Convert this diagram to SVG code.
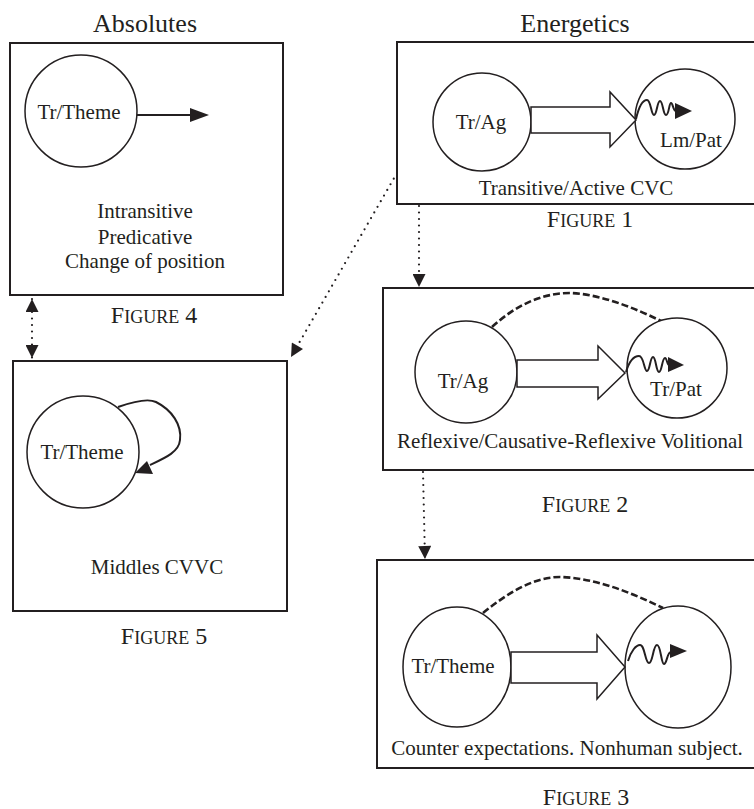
<svg xmlns="http://www.w3.org/2000/svg" width="754" height="809" viewBox="0 0 754 809">
<style>
text{font-family:"Liberation Serif","Times New Roman",serif;fill:#231f20}
.title{font-size:26px}
.body{font-size:21px}
.cap{font-size:24px}
.sc{font-size:18px}
.box{fill:#fff;stroke:#231f20;stroke-width:2}
.node{fill:#fff;stroke:#231f20;stroke-width:1.5}
.hollow{fill:#fff;stroke:#231f20;stroke-width:1.5;stroke-linejoin:miter}
.solid{fill:none;stroke:#231f20;stroke-width:2}
.wave{fill:none;stroke:#231f20;stroke-width:2}
.dash{fill:none;stroke:#231f20;stroke-width:2.6;stroke-dasharray:7 3}
.dot{fill:none;stroke:#231f20;stroke-width:2.2;stroke-dasharray:0 6.5;stroke-linecap:round}
.head{fill:#231f20;stroke:none}
</style>
<defs>
<marker id="ah" viewBox="0 0 10 10" refX="10" refY="5" markerWidth="15" markerHeight="13" markerUnits="userSpaceOnUse" orient="auto-start-reverse">
<path d="M0,0 L10,5 L0,10 z" fill="#231f20"/>
</marker>
</defs>

<text class="title" x="145" y="32" text-anchor="middle">Absolutes</text>
<text class="title" x="575" y="32" text-anchor="middle">Energetics</text>

<g id="fig4">
<rect class="box" x="10" y="43" width="273" height="252"/>
<circle class="node" cx="81" cy="111" r="56"/>
<text class="body" x="79" y="119" text-anchor="middle">Tr/Theme</text>
<line class="solid" x1="137" y1="115" x2="191" y2="115"/>
<polygon class="head" points="190,108 209,115 190,122"/>
<text class="body" x="145" y="218" text-anchor="middle">Intransitive</text>
<text class="body" x="145" y="244" text-anchor="middle">Predicative</text>
<text class="body" x="145" y="268" text-anchor="middle">Change of position</text>
<text class="cap" x="154" y="323" text-anchor="middle">F<tspan class="sc">IGURE</tspan> 4</text>
</g>

<g id="fig1">
<rect class="box" x="397" y="42" width="360" height="162"/>
<circle class="node" cx="482" cy="122" r="49"/>
<text class="body" x="481" y="129" text-anchor="middle">Tr/Ag</text>
<circle class="node" cx="685" cy="119" r="50"/>
<polygon class="hollow" points="531,107 610,107 610,92 636,120 610,147 610,133 531,133"/>
<path class="wave" d="M636,119 C639,106 643,100 647,100 C651,100 651,115 654,115 C657,115 657,101 660,101 C663,101 663,115 666,115 C669,115 669,103 671,103 C673,103 673,111 676,111"/>
<polygon class="head" points="675,103 692,111 675,119"/>
<text class="body" x="691" y="147" text-anchor="middle">Lm/Pat</text>
<text class="body" x="576" y="195" text-anchor="middle">Transitive/Active CVC</text>
<text class="cap" x="590" y="227" text-anchor="middle">F<tspan class="sc">IGURE</tspan> 1</text>
</g>

<g id="fig2">
<rect class="box" x="383" y="288" width="374" height="182"/>
<path class="dash" d="M492,327 C518,303 545,293 570,293 C600,294 635,308 663,322"/>
<circle class="node" cx="466" cy="372" r="51"/>
<text class="body" x="463" y="388" text-anchor="middle">Tr/Ag</text>
<circle class="node" cx="677" cy="368" r="50"/>
<polygon class="hollow" points="517,360 598,360 598,346 625,373 598,399 598,387 517,387"/>
<path class="wave" d="M626,372 C629,362 634,356 639,356 C644,356 644,371 647,371 C650,371 650,357 653,357 C656,357 656,372 659,372 C662,372 662,358 665,358 C667,358 667,365 669,365"/>
<polygon class="head" points="668,357 684,365 668,372"/>
<text class="body" x="676" y="396" text-anchor="middle">Tr/Pat</text>
<text class="body" x="570" y="448" text-anchor="middle">Reflexive/Causative-Reflexive Volitional</text>
<text class="cap" x="585" y="512" text-anchor="middle">F<tspan class="sc">IGURE</tspan> 2</text>
</g>

<g id="fig3">
<rect class="box" x="377" y="560" width="380" height="208"/>
<path class="dash" d="M483,613 C510,591 535,577 560,577 C595,578 630,592 663,608"/>
<ellipse class="node" cx="457" cy="667" rx="54" ry="60"/>
<text class="body" x="453" y="673" text-anchor="middle">Tr/Theme</text>
<ellipse class="node" cx="678" cy="667" rx="53" ry="61"/>
<polygon class="hollow" points="511,652 597,652 597,635 625,667 597,699 597,683 511,683"/>
<path class="wave" d="M628,661 C631,651 636,645 640,645 C645,645 645,663 649,663 C653,663 653,645 657,645 C661,645 661,664 664,664 C667,664 667,652 671,652"/>
<polygon class="head" points="670,644 687,651 670,658"/>
<text class="body" x="567" y="755" text-anchor="middle">Counter expectations. Nonhuman subject.</text>
<text class="cap" x="586" y="805" text-anchor="middle">F<tspan class="sc">IGURE</tspan> 3</text>
</g>

<g id="fig5">
<rect class="box" x="13" y="361" width="274" height="250"/>
<circle class="node" cx="83" cy="452" r="56"/>
<text class="body" x="82" y="459" text-anchor="middle">Tr/Theme</text>
<path class="solid" d="M118,407 C135,401 148,398 156,402 C172,410 182,425 180,440 C179,452 165,458 150,465"/>
<polygon class="head" points="135,473 147,461 153,474"/>
<text class="body" x="157" y="574" text-anchor="middle">Middles CVVC</text>
<text class="cap" x="164" y="644" text-anchor="middle">F<tspan class="sc">IGURE</tspan> 5</text>
</g>

<g id="connectors">
<line class="dot" x1="32" y1="299" x2="32" y2="358" marker-start="url(#ah)" marker-end="url(#ah)"/>
<line class="dot" x1="397" y1="173" x2="291" y2="357" marker-end="url(#ah)"/>
<line class="dot" x1="419" y1="206" x2="419" y2="287" marker-end="url(#ah)"/>
<line class="dot" x1="423" y1="472" x2="425" y2="559" marker-end="url(#ah)"/>
</g>
</svg>
